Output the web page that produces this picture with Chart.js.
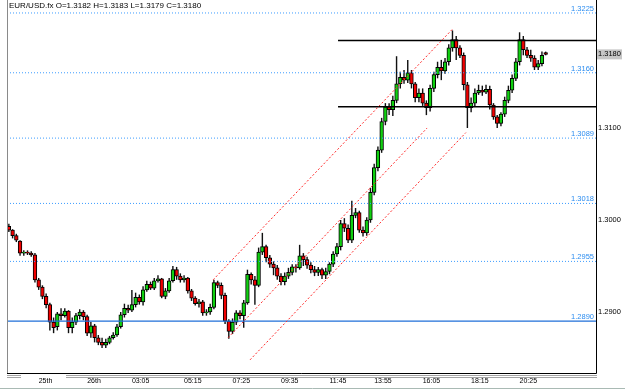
<!DOCTYPE html>
<html>
<head>
<meta charset="utf-8">
<script src="https://cdn.jsdelivr.net/npm/chart.js@4.4.0/dist/chart.umd.min.js"></script>
<style>
  body { margin: 0; background: #fff; }
  #wrap { position: relative; width: 625px; height: 389px; }
  #hdr { position: absolute; left: 9px; top: 1px; font: 8px "Liberation Sans", Arial, sans-serif; color: #000; white-space: nowrap; }
</style>
</head>
<body>
<div id="wrap">
  <canvas id="chartEur" width="625" height="389"></canvas>
  <div id="hdr"></div>
</div>
<script>
// EUR/USD.fx candles
const opens = [1.2993,1.2989,1.2983,1.2977,1.2964,1.2965,1.2964,1.2962,1.2935,1.2927,
  1.2917,1.2908,1.2889,1.2884,1.2898,1.2896,1.2901,1.2883,1.2889,1.2896,
  1.2900,1.2895,1.2877,1.2885,1.2872,1.2867,1.2864,1.2867,1.2872,1.2875,
  1.2884,1.2897,1.2904,1.2902,1.2908,1.2916,1.2911,1.2924,1.2930,1.2926,
  1.2934,1.2936,1.2917,1.2923,1.2934,1.2946,1.2939,1.2935,1.2937,1.2923,
  1.2915,1.2909,1.2911,1.2899,1.2900,1.2905,1.2932,1.2929,1.2918,1.2890,
  1.2879,1.2889,1.2899,1.2896,1.2910,1.2941,1.2935,1.2929,1.2965,1.2971,
  1.2959,1.2952,1.2948,1.2939,1.2933,1.2939,1.2943,1.2949,1.2948,1.2961,
  1.2957,1.2951,1.2946,1.2943,1.2946,1.2940,1.2944,1.2952,1.2963,1.2971,
  1.2996,1.2991,1.2978,1.3005,1.3008,1.2989,1.2986,1.3000,1.3030,1.3057,
  1.3076,1.3107,1.3123,1.3120,1.3130,1.3148,1.3155,1.3152,1.3160,1.3148,
  1.3133,1.3138,1.3127,1.3122,1.3143,1.3158,1.3166,1.3162,1.3172,1.3187,
  1.3196,1.3187,1.3179,1.3147,1.3122,1.3127,1.3138,1.3141,1.3139,1.3142,
  1.3125,1.3112,1.3105,1.3115,1.3130,1.3141,1.3154,1.3172,1.3196,1.3185,
  1.3179,1.3176,1.3166,1.3170,1.3182];
const highs = [1.2996,1.2990,1.2985,1.2978,1.2967,1.2967,1.2966,1.2964,1.2937,1.2929,
  1.2920,1.2910,1.2894,1.2900,1.2904,1.2904,1.2902,1.2894,1.2899,1.2903,
  1.2902,1.2897,1.2889,1.2887,1.2875,1.2872,1.2871,1.2874,1.2878,1.2887,
  1.2900,1.2909,1.2908,1.2924,1.2921,1.2919,1.2928,1.2934,1.2933,1.2937,
  1.2940,1.2937,1.2926,1.2937,1.2950,1.2949,1.2942,1.2940,1.2938,1.2925,
  1.2917,1.2914,1.2913,1.2903,1.2909,1.2935,1.2934,1.2932,1.2921,1.2892,
  1.2893,1.2902,1.2902,1.2913,1.2946,1.2943,1.2939,1.2970,1.2986,1.2973,
  1.2962,1.2955,1.2951,1.2942,1.2943,1.2948,1.2952,1.2952,1.2973,1.2964,
  1.2960,1.2954,1.2950,1.2949,1.2948,1.2948,1.2954,1.2966,1.2975,1.3000,
  1.3002,1.2995,1.3021,1.3013,1.3010,1.2993,1.3003,1.3035,1.3061,1.3080,
  1.3111,1.3127,1.3127,1.3135,1.3178,1.3161,1.3163,1.3174,1.3163,1.3150,
  1.3143,1.3143,1.3130,1.3147,1.3161,1.3172,1.3174,1.3176,1.3191,1.3206,
  1.3200,1.3190,1.3182,1.3150,1.3133,1.3143,1.3147,1.3146,1.3147,1.3146,
  1.3127,1.3114,1.3117,1.3134,1.3146,1.3158,1.3176,1.3204,1.3200,1.3188,
  1.3185,1.3179,1.3174,1.3183,1.3183];
const lows = [1.2987,1.2980,1.2976,1.2961,1.2961,1.2962,1.2960,1.2932,1.2924,1.2914,
  1.2904,1.2880,1.2877,1.2880,1.2891,1.2894,1.2877,1.2877,1.2886,1.2892,
  1.2891,1.2874,1.2872,1.2867,1.2864,1.2861,1.2861,1.2865,1.2870,1.2873,
  1.2882,1.2894,1.2899,1.2900,1.2905,1.2908,1.2907,1.2922,1.2924,1.2924,
  1.2932,1.2915,1.2914,1.2921,1.2932,1.2935,1.2932,1.2932,1.2920,1.2912,
  1.2907,1.2905,1.2896,1.2896,1.2897,1.2903,1.2926,1.2914,1.2887,1.2871,
  1.2876,1.2886,1.2892,1.2883,1.2908,1.2930,1.2908,1.2927,1.2962,1.2954,
  1.2948,1.2940,1.2935,1.2929,1.2929,1.2936,1.2940,1.2943,1.2946,1.2950,
  1.2947,1.2942,1.2939,1.2939,1.2936,1.2936,1.2941,1.2949,1.2960,1.2967,
  1.2987,1.2975,1.2975,1.3002,1.2986,1.2982,1.2983,1.2997,1.3027,1.3053,
  1.3073,1.3103,1.3114,1.3113,1.3127,1.3143,1.3148,1.3149,1.3143,1.3128,
  1.3128,1.3124,1.3114,1.3118,1.3139,1.3154,1.3152,1.3159,1.3168,1.3183,
  1.3174,1.3176,1.3141,1.3100,1.3117,1.3124,1.3136,1.3135,1.3137,1.3120,
  1.3109,1.3100,1.3102,1.3112,1.3127,1.3138,1.3151,1.3168,1.3179,1.3176,
  1.3172,1.3163,1.3163,1.3167,1.3179];
const closes = [1.2989,1.2983,1.2978,1.2964,1.2965,1.2964,1.2962,1.2935,1.2927,1.2917,
  1.2908,1.2889,1.2883,1.2898,1.2896,1.2901,1.2883,1.2889,1.2896,1.2900,
  1.2895,1.2877,1.2885,1.2872,1.2867,1.2864,1.2867,1.2872,1.2875,1.2884,
  1.2897,1.2904,1.2902,1.2908,1.2916,1.2911,1.2924,1.2930,1.2926,1.2934,
  1.2936,1.2917,1.2923,1.2934,1.2946,1.2939,1.2935,1.2937,1.2923,1.2915,
  1.2909,1.2911,1.2899,1.2900,1.2905,1.2932,1.2929,1.2918,1.2890,1.2879,
  1.2889,1.2899,1.2896,1.2910,1.2941,1.2935,1.2929,1.2965,1.2971,1.2959,
  1.2952,1.2948,1.2939,1.2933,1.2939,1.2943,1.2949,1.2948,1.2961,1.2957,
  1.2951,1.2946,1.2943,1.2946,1.2940,1.2944,1.2952,1.2963,1.2971,1.2996,
  1.2991,1.2978,1.3005,1.3008,1.2989,1.2986,1.3000,1.3030,1.3057,1.3076,
  1.3107,1.3123,1.3120,1.3130,1.3148,1.3155,1.3152,1.3160,1.3148,1.3133,
  1.3138,1.3127,1.3122,1.3143,1.3158,1.3166,1.3162,1.3172,1.3187,1.3196,
  1.3187,1.3179,1.3147,1.3122,1.3127,1.3138,1.3141,1.3139,1.3142,1.3125,
  1.3112,1.3105,1.3115,1.3130,1.3141,1.3154,1.3172,1.3196,1.3185,1.3179,
  1.3176,1.3166,1.3170,1.3179,1.3180];

// time axis: label text and the bar it sits on
const timeLabels = ['25th', '26th', '03:05', '05:15', '07:25', '09:35', '11:45', '13:55', '16:05', '18:15', '20:25'];
const timeBars = [8, 21, 33, 47, 60, 73, 86, 98, 111, 124, 137];
const priceTicks = [1.2900, 1.3000, 1.3100];

// objects drawn on the chart
const dottedLevels = [1.3225, 1.3160, 1.3089, 1.3018, 1.2955];
const solidLevels = [1.2890];
const rangeLevels = [1.3195, 1.3123];
const rangeFromBar = 88.3;
const channels = [
  [[54.8, 1.2935], [118.9, 1.3207]],
  [[58.8, 1.2872], [112.2, 1.3100]],
  [[64.7, 1.2848], [122.6, 1.3095]]
];
const slots = 158; // bars + chart shift on the right

const FONT = '"Liberation Sans", Arial, sans-serif';
const last = closes.length - 1;
document.getElementById('hdr').textContent =
  'EUR/USD.fx O=' + opens[last].toFixed(4) + ' H=' + highs[last].toFixed(4) +
  ' L=' + lows[last].toFixed(4) + ' C=' + closes[last].toFixed(4);

const bodyColors = closes.map((c, i) => c >= opens[i] ? '#10d010' : '#f00000');

function hLine(p, from, color, dash, width) {
  return {
    type: 'line',
    data: [{ x: from, y: p }, { x: slots - 0.5, y: p }],
    borderColor: color, borderWidth: width, borderDash: dash,
    pointRadius: 0, order: -1
  };
}

const lineSets = [];
dottedLevels.forEach(p => lineSets.push(hLine(p, -0.5, '#3c9cff', [1, 2], 1)));
solidLevels.forEach(p => lineSets.push(hLine(p, -0.5, '#1f6fd8', [], 1.2)));
rangeLevels.forEach(p => lineSets.push(hLine(p, rangeFromBar, '#000', [], 1.5)));
channels.forEach(c => lineSets.push({
  type: 'line',
  data: c.map(pt => ({ x: pt[0], y: pt[1] })),
  borderColor: '#ff2a2a', borderWidth: 1, borderDash: [2, 2],
  pointRadius: 0, order: -2
}));

const mt4Decor = {
  id: 'mt4Decor',
  afterDraw(chart) {
    const { ctx, chartArea: a, scales: { y } } = chart;
    ctx.save();
    // level captions
    ctx.font = '7.5px ' + FONT;
    ctx.textAlign = 'right';
    ctx.textBaseline = 'bottom';
    ctx.fillStyle = '#2a8cf0';
    dottedLevels.concat(solidLevels).forEach(p => {
      ctx.fillText(p.toFixed(4), a.right - 2, y.getPixelForValue(p) - 0.5);
    });
    // frame
    ctx.lineWidth = 1;
    ctx.strokeStyle = '#8a8a8a';
    ctx.beginPath(); ctx.moveTo(a.left + 0.5, 0); ctx.lineTo(a.left + 0.5, a.bottom); ctx.stroke();
    ctx.strokeStyle = '#000';
    ctx.beginPath();
    ctx.moveTo(a.left, a.bottom + 0.5); ctx.lineTo(a.right + 0.5, a.bottom + 0.5);
    ctx.lineTo(a.right + 0.5, 0);
    ctx.stroke();
    ctx.strokeStyle = '#a4a4a4';
    [2.5, 4.5].forEach(d => {
      ctx.beginPath();
      ctx.moveTo(a.left, a.bottom + d); ctx.lineTo(a.left + 14, a.bottom + d);
      ctx.moveTo(a.left + 59, a.bottom + d); ctx.lineTo(a.right + 1, a.bottom + d);
      ctx.stroke();
    });
    ctx.strokeStyle = '#a9bab4';
    ctx.beginPath(); ctx.moveTo(0, 388.5); ctx.lineTo(625, 388.5); ctx.stroke();
    // current price box
    const py = y.getPixelForValue(closes[last]);
    ctx.fillStyle = '#c6c6c6';
    ctx.fillRect(a.right + 1, py - 5, 25, 10);
    ctx.fillStyle = '#000';
    ctx.textAlign = 'left';
    ctx.textBaseline = 'middle';
    ctx.fillText(closes[last].toFixed(4), a.right + 2, py);
    ctx.restore();
  }
};

new Chart(document.getElementById('chartEur'), {
  type: 'bar',
  data: {
    datasets: [
      ...lineSets,
      {
        label: 'body',
        data: opens.map((o, i) => ({ x: i, y: [o, closes[i]] })),
        backgroundColor: bodyColors,
        borderColor: '#000',
        borderWidth: 1,
        borderSkipped: false,
        grouped: false,
        categoryPercentage: 1,
        barPercentage: 1,
        minBarLength: 1,
        order: 0
      },
      {
        label: 'wick',
        data: lows.map((l, i) => ({ x: i, y: [l, highs[i]] })),
        backgroundColor: '#111',
        grouped: false,
        categoryPercentage: 1,
        barPercentage: 0.38,
        order: 1
      }
    ]
  },
  options: {
    responsive: false,
    animation: false,
    events: [],
    layout: { padding: { left: 7, top: 0, right: 0, bottom: 0 } },
    plugins: { legend: { display: false }, tooltip: { enabled: false } },
    scales: {
      x: {
        type: 'linear',
        min: -0.5,
        max: slots - 0.5,
        offset: false,
        grid: { display: false, drawTicks: false },
        border: { display: false },
        afterFit: s => { s.height = 16; s.paddingLeft = 0; s.paddingRight = 0; },
        afterBuildTicks: s => { s.ticks = timeBars.map(v => ({ value: v })); },
        ticks: {
          autoSkip: false,
          maxRotation: 0,
          align: 'start',
          padding: 4,
          color: '#000',
          font: { family: FONT, size: 7 },
          callback: (v, i) => timeLabels[i]
        }
      },
      y: {
        type: 'linear',
        position: 'right',
        min: 1.28337,
        max: 1.32391,
        grid: { display: false, drawTicks: false },
        border: { display: false },
        afterFit: s => { s.width = 29; s.paddingTop = 0; s.paddingBottom = 0; },
        afterBuildTicks: s => { s.ticks = priceTicks.map(v => ({ value: v })); },
        ticks: {
          padding: 2,
          color: '#000',
          font: { family: FONT, size: 7.5 },
          callback: v => v.toFixed(4)
        }
      }
    }
  },
  plugins: [mt4Decor]
});
</script>
</body>
</html>
